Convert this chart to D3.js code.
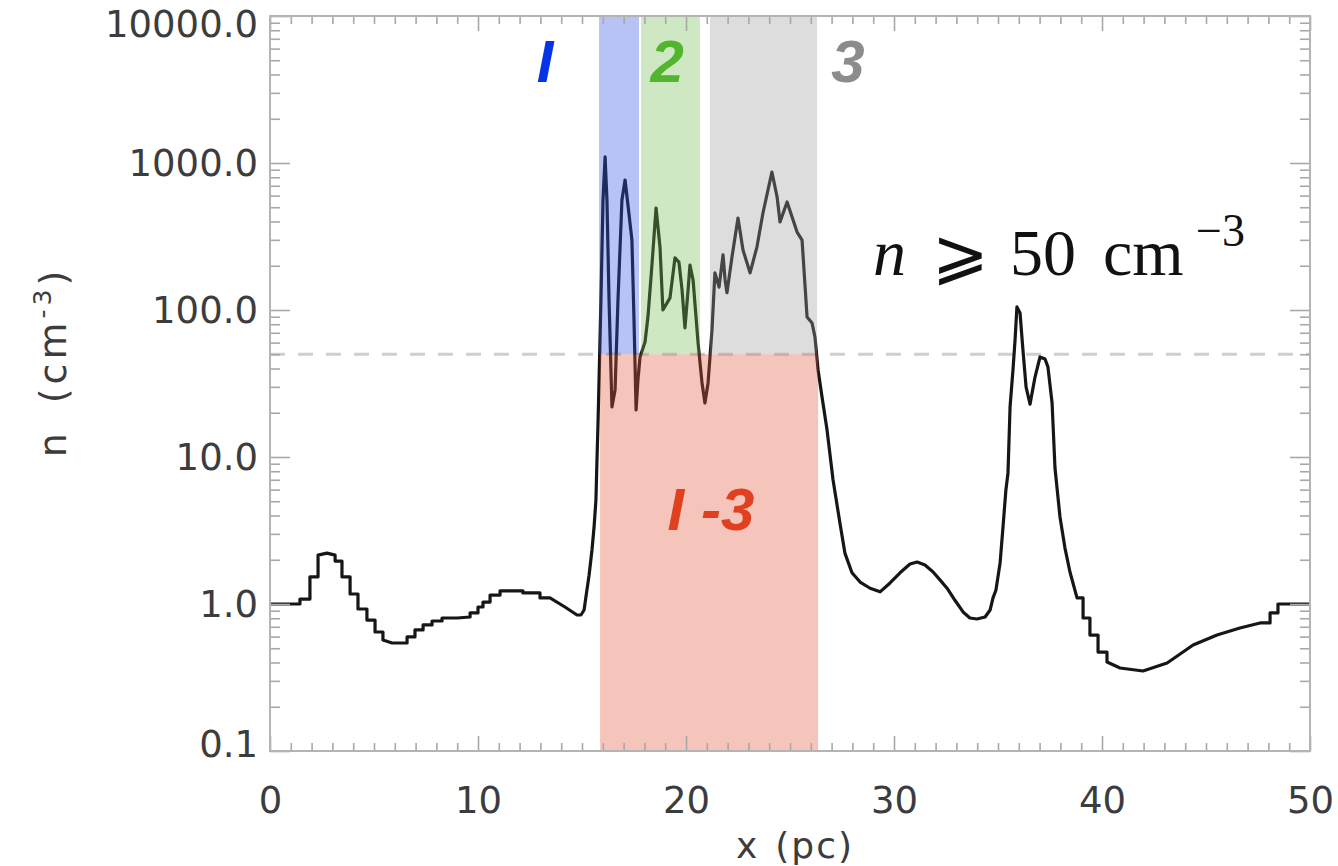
<!DOCTYPE html>
<html>
<head>
<meta charset="utf-8">
<script src="https://cdn.jsdelivr.net/npm/d3@7"></script>
<style>
  body { margin: 0; background: #fff; }
</style>
</head>
<body>
<svg id="chart" width="1338" height="866" font-family="DejaVu Sans, sans-serif"></svg>
<script>
// density profile along x, [x (pc), n (cm^-3)]
var densityProfile = [
  [0, 1.0], [1.44, 1.0], [1.44, 1.08], [1.92, 1.08], [1.92, 1.53], [2.31, 1.53], [2.31, 2.15],
  [2.74, 2.22], [3.13, 2.15], [3.13, 1.96], [3.46, 1.96], [3.46, 1.53], [3.85, 1.53], [3.85, 1.17],
  [4.23, 1.17], [4.23, 0.925], [4.66, 0.925], [4.66, 0.778], [5.05, 0.778], [5.05, 0.645],
  [5.43, 0.645], [5.43, 0.569], [5.87, 0.543], [6.59, 0.543], [6.59, 0.597], [6.97, 0.597],
  [6.97, 0.666], [7.36, 0.666], [7.36, 0.72], [7.79, 0.72], [7.79, 0.766], [8.27, 0.766],
  [8.27, 0.803], [9.0, 0.803], [9.62, 0.816], [9.62, 0.869], [10.0, 0.869], [10.0, 0.954],
  [10.24, 0.954], [10.24, 1.03], [10.58, 1.03], [10.58, 1.15], [11.06, 1.15], [11.06, 1.23],
  [12.16, 1.23], [12.16, 1.19], [12.98, 1.19], [12.98, 1.10], [13.46, 1.10], [14.18, 0.954],
  [14.76, 0.842], [14.95, 0.842], [15.10, 0.91], [15.19, 1.12], [15.34, 1.57], [15.48, 2.33],
  [15.58, 3.34], [15.67, 5.1], [15.72, 9.5], [15.77, 17.0], [15.82, 33.4],
  [15.91, 117], [16.01, 560], [16.11, 1099], [16.20, 560], [16.30, 117], [16.44, 21.9],
  [16.59, 28.6], [16.73, 117], [16.92, 560], [17.07, 766], [17.21, 518], [17.40, 299],
  [17.50, 85.5], [17.60, 20.9], [17.69, 33.4], [17.79, 47.9], [18.03, 60.6], [18.17, 89.6],
  [18.37, 209], [18.56, 494], [18.75, 268], [18.89, 100], [19.23, 121], [19.47, 226],
  [19.66, 212], [19.81, 137], [19.95, 75.5], [20.10, 137], [20.19, 202], [20.34, 160],
  [20.58, 59.7], [20.77, 31.9], [20.91, 23.3], [21.06, 31.9], [21.25, 73.1], [21.39, 179],
  [21.49, 160], [21.59, 143], [21.78, 237], [21.88, 160], [21.97, 131], [22.21, 229],
  [22.50, 422], [22.74, 256], [23.08, 179], [23.41, 268], [23.70, 457], [24.13, 868],
  [24.38, 587], [24.52, 397], [24.86, 543], [25.10, 429], [25.34, 339], [25.58, 299],
  [25.82, 89.6], [26.06, 81.6], [26.20, 65.5], [26.35, 39.1], [26.54, 25.6], [26.78, 15.3],
  [27.07, 6.98], [27.40, 3.56], [27.64, 2.22], [27.98, 1.63], [28.37, 1.41], [28.85, 1.28],
  [29.33, 1.21], [29.81, 1.39], [30.29, 1.63], [30.77, 1.87], [31.11, 1.93], [31.49, 1.84],
  [31.88, 1.65], [32.21, 1.46], [32.55, 1.28], [32.93, 1.06], [33.32, 0.883], [33.65, 0.803],
  [33.99, 0.791], [34.38, 0.816], [34.62, 0.91], [34.76, 1.10], [34.90, 1.24], [35.10, 1.90],
  [35.24, 3.34], [35.38, 5.97], [35.48, 7.78], [35.58, 21.9], [35.72, 39.1], [35.82, 62.5],
  [35.91, 105], [36.06, 95.4], [36.20, 53.4], [36.35, 29.9], [36.54, 22.9], [36.78, 35.0],
  [37.02, 47.9], [37.26, 46.4], [37.40, 41.0], [37.60, 23.3], [37.74, 8.42], [37.98, 3.91],
  [38.22, 2.40], [38.46, 1.65], [38.80, 1.10], [39.09, 1.10], [39.09, 0.803], [39.42, 0.803],
  [39.42, 0.615], [39.81, 0.615], [39.81, 0.471], [40.24, 0.471], [40.24, 0.403], [40.87, 0.367],
  [41.97, 0.350], [43.13, 0.397], [44.38, 0.526], [45.53, 0.615], [46.63, 0.686], [47.6, 0.743],
  [48.08, 0.743], [48.08, 0.869], [48.46, 0.869], [48.46, 1.0], [50, 1.0]
];

var xTicks = [0, 10, 20, 30, 40, 50];
var yTicks = [0.1, 1, 10, 100, 1000, 10000];
var threshold = 50;

// clouds above the threshold
var cloudNames = ["I", "2", "3"];
var cloudStart = [15.82, 17.84, 21.15];
var cloudEnd = [17.74, 20.67, 26.30];
var cloudLabelX = [13.22, 19.09, 27.79];
var cloudFill = ["#3254e3", "#70bd54", "#9e9e9e"];
var cloudText = ["#0533e6", "#52b52d", "#8c8c8c"];

// whole region below the threshold
var combinedName = "I -3";
var combinedRange = [15.87, 26.35];
var combinedLabelX = 21.2;

var margins = { top: 16, left: 270, right: 28, bottom: 115 };
var width = 1338 - margins.left - margins.right;
var height = 866 - margins.top - margins.bottom;

var svg = d3.select("#chart");
var g = svg.append("g")
  .attr("transform", "translate(" + margins.left + "," + margins.top + ")");

var xScale = d3.scaleLinear().domain([0, 50]).range([0, width]);
var yScale = d3.scaleLog().domain([0.1, 10000]).range([height, 0]);

var xMinor = d3.range(0, 51).filter(function (d) { return d % 10 !== 0; });
var yMinor = [];
[0.1, 1, 10, 100, 1000].forEach(function (dec) {
  for (var k = 2; k <= 9; k++) yMinor.push(dec * k);
});

// threshold line
g.append("line")
  .attr("x1", 0).attr("x2", width)
  .attr("y1", yScale(threshold)).attr("y2", yScale(threshold))
  .attr("stroke", "#cfcfcf")
  .attr("stroke-width", 3)
  .attr("stroke-dasharray", "15,13");

// profile
var line = d3.line()
  .x(function (d) { return xScale(d[0]); })
  .y(function (d) { return yScale(d[1]); });

g.append("path")
  .datum(densityProfile)
  .attr("d", line)
  .attr("fill", "none")
  .attr("stroke", "#161616")
  .attr("stroke-width", 3.2)
  .attr("stroke-linejoin", "round");

// translucent bands over the curve
g.selectAll("rect.cloud")
  .data(cloudNames)
  .enter()
  .append("rect")
  .attr("class", "cloud")
  .attr("x", function (d, i) { return xScale(cloudStart[i]); })
  .attr("y", 0)
  .attr("width", function (d, i) { return xScale(cloudEnd[i]) - xScale(cloudStart[i]); })
  .attr("height", yScale(threshold))
  .attr("fill", function (d, i) { return cloudFill[i]; })
  .attr("fill-opacity", 0.35);

g.append("rect")
  .attr("x", xScale(combinedRange[0]))
  .attr("y", yScale(threshold))
  .attr("width", xScale(combinedRange[1]) - xScale(combinedRange[0]))
  .attr("height", height - yScale(threshold))
  .attr("fill", "#e3563a")
  .attr("fill-opacity", 0.35);

// axes: ticks inside on all four sides
function styleAxis(sel) {
  sel.select(".domain").remove();
  sel.selectAll(".tick line").attr("stroke", "#a8a8a8").attr("stroke-width", 1.6);
  sel.selectAll(".tick text")
    .attr("fill", "#3c3c3c")
    .style("font-family", "'DejaVu Sans', sans-serif")
    .style("font-size", "37px");
}

g.append("g")
  .attr("transform", "translate(0," + height + ")")
  .call(d3.axisBottom(xScale).tickValues(xTicks).tickSize(-15).tickPadding(36).tickFormat(d3.format("d")))
  .call(styleAxis);
g.append("g")
  .attr("transform", "translate(0," + height + ")")
  .call(d3.axisBottom(xScale).tickValues(xMinor).tickSize(-8).tickFormat(""))
  .call(styleAxis);
g.append("g")
  .call(d3.axisTop(xScale).tickValues(xTicks).tickSize(-15).tickFormat(""))
  .call(styleAxis);
g.append("g")
  .call(d3.axisTop(xScale).tickValues(xMinor).tickSize(-8).tickFormat(""))
  .call(styleAxis);

var leftAxis = g.append("g")
  .call(d3.axisLeft(yScale).tickValues(yTicks).tickSize(-20).tickPadding(12).tickFormat(d3.format(".1f")))
  .call(styleAxis);
leftAxis.selectAll(".tick text")
  .attr("dy", function (d) { return d === 10000 ? "0.55em" : d === 0.1 ? "0.15em" : "0.33em"; });
g.append("g")
  .call(d3.axisLeft(yScale).tickValues(yMinor).tickSize(-10).tickFormat(""))
  .call(styleAxis);
g.append("g")
  .attr("transform", "translate(" + width + ",0)")
  .call(d3.axisRight(yScale).tickValues(yTicks).tickSize(-20).tickFormat(""))
  .call(styleAxis);
g.append("g")
  .attr("transform", "translate(" + width + ",0)")
  .call(d3.axisRight(yScale).tickValues(yMinor).tickSize(-10).tickFormat(""))
  .call(styleAxis);

g.append("rect")
  .attr("width", width)
  .attr("height", height)
  .attr("fill", "none")
  .attr("stroke", "#b4b4b4")
  .attr("stroke-width", 2);

// band labels
g.selectAll("text.cloudlabel")
  .data(cloudNames)
  .enter()
  .append("text")
  .attr("class", "cloudlabel")
  .attr("x", function (d, i) { return xScale(cloudLabelX[i]); })
  .attr("y", 66)
  .attr("text-anchor", "middle")
  .style("font-family", "'Liberation Sans', sans-serif")
  .style("font-weight", "bold")
  .style("font-style", "italic")
  .style("font-size", "60px")
  .attr("fill", function (d, i) { return cloudText[i]; })
  .text(function (d) { return d; });

g.append("text")
  .attr("x", xScale(combinedLabelX))
  .attr("y", 514)
  .attr("text-anchor", "middle")
  .style("font-family", "'Liberation Sans', sans-serif")
  .style("font-weight", "bold")
  .style("font-style", "italic")
  .style("font-size", "60px")
  .attr("fill", "#e0401e")
  .text(combinedName);

// threshold annotation
var serif = "'Liberation Serif', 'DejaVu Serif', serif";
var note = svg.append("g").attr("fill", "#111");
note.append("text").attr("x", 873).attr("y", 275)
  .style("font-family", serif).style("font-size", "66px").style("font-style", "italic").text("n");
note.append("text").attr("x", 932).attr("y", 277)
  .style("font-family", "'DejaVu Serif', 'DejaVu Sans', serif").style("font-size", "68px").text("\u2A7E");
note.append("text").attr("x", 1010).attr("y", 275)
  .style("font-family", serif).style("font-size", "66px").text("50");
note.append("text").attr("x", 1103).attr("y", 275)
  .style("font-family", serif).style("font-size", "66px").text("cm");
note.append("text").attr("x", 1196).attr("y", 246)
  .style("font-family", serif).style("font-size", "46px").text("\u22123");

// axis titles
var yTitle = svg.append("text")
  .attr("transform", "translate(66,362) rotate(-90)")
  .attr("text-anchor", "middle")
  .attr("fill", "#3c3c3c")
  .style("font-family", "'DejaVu Sans', sans-serif")
  .style("font-size", "38px")
  .style("letter-spacing", "4px");
yTitle.append("tspan").text("n");
yTitle.append("tspan").attr("dx", 26).text("(cm");
yTitle.append("tspan").attr("dy", -15).style("font-size", "25px").text("-3");
yTitle.append("tspan").attr("dy", 15).text(")");

var xTitle = svg.append("text")
  .attr("x", 795)
  .attr("y", 858)
  .attr("text-anchor", "middle")
  .attr("fill", "#3c3c3c")
  .style("font-family", "'DejaVu Sans', sans-serif")
  .style("font-size", "36px")
  .style("letter-spacing", "2px");
xTitle.append("tspan").text("x");
xTitle.append("tspan").attr("dx", 16).text("(pc)");
</script>
</body>
</html>
